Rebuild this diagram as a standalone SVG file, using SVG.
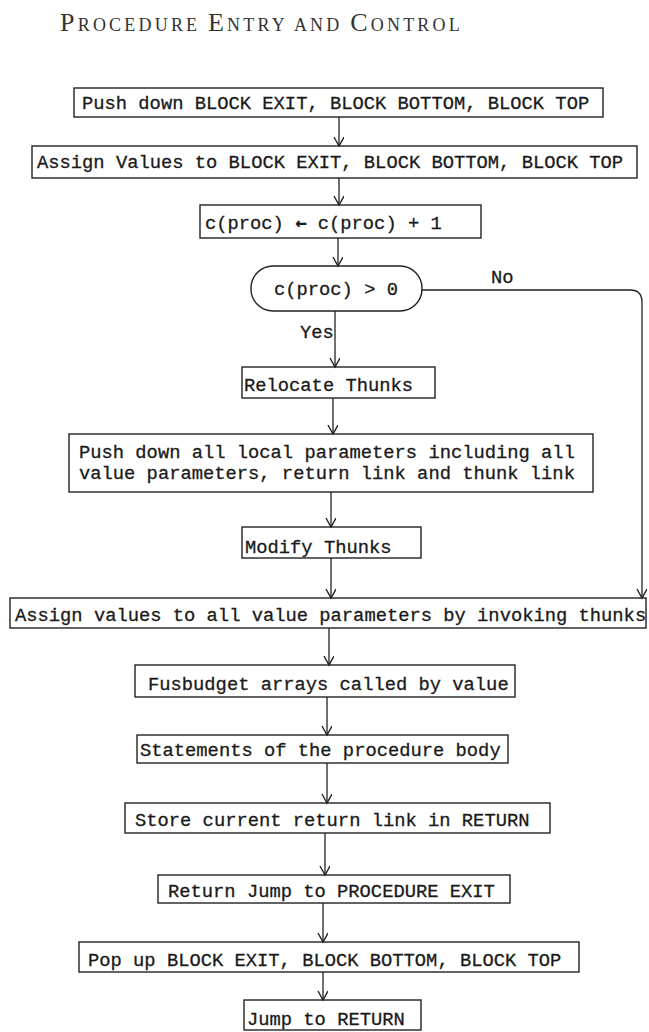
<svg xmlns="http://www.w3.org/2000/svg" width="649" height="1032" viewBox="0 0 649 1032">
<style>
.box{fill:none;stroke:#222;stroke-width:1.4}
.t{font-family:"Liberation Mono","DejaVu Sans Mono",monospace;font-size:18.8px;fill:#1a1a1a;stroke:#1a1a1a;stroke-width:0.3}
.c{stroke:#222;stroke-width:1.3;fill:none;marker-end:url(#ah)}
.title{font-family:"Liberation Serif","DejaVu Serif",serif;fill:#333;letter-spacing:3.2px}
.arr{font-family:"DejaVu Sans Mono",monospace;font-weight:bold}
</style>
<defs>
<marker id="ah" markerUnits="userSpaceOnUse" markerWidth="12" markerHeight="12" refX="10" refY="5" orient="auto" viewBox="0 0 12 12">
<path d="M1,0 L10,5 L1,10" fill="none" stroke="#222" stroke-width="1.4"/>
</marker>
</defs>
<rect width="649" height="1032" fill="#fff"/>
<text class="title" x="60" y="31"><tspan font-size="26">P</tspan><tspan font-size="18">ROCEDURE </tspan><tspan font-size="26">E</tspan><tspan font-size="18">NTRY AND </tspan><tspan font-size="26">C</tspan><tspan font-size="18">ONTROL</tspan></text>
<g id="connectors">
<path class="c" d="M339,117 V146"/>
<path class="c" d="M339,178 V205"/>
<path class="c" d="M338,238 V266"/>
<path class="c" d="M335,311 V367"/>
<path class="c" d="M333,398 V434"/>
<path class="c" d="M331,492 V527"/>
<path class="c" d="M331,558 V598"/>
<path class="c" d="M329,628 V665"/>
<path class="c" d="M327,697 V735"/>
<path class="c" d="M327,763 V803"/>
<path class="c" d="M325,833 V875"/>
<path class="c" d="M323,903 V942"/>
<path class="c" d="M323,972 V1000"/>
<path class="c" d="M422,290 H630 Q642,290 642,302 V598"/>
<text class="t" x="491" y="283">No</text>
<text class="t" x="300" y="338">Yes</text>
</g>
<g id="n1"><rect class="box" x="74" y="88" width="529" height="29"/><text class="t" x="82" y="109">Push down BLOCK EXIT, BLOCK BOTTOM, BLOCK TOP</text></g>
<g id="n2"><rect class="box" x="32" y="146" width="605" height="32"/><text class="t" x="37" y="168">Assign Values to BLOCK EXIT, BLOCK BOTTOM, BLOCK TOP</text></g>
<g id="n3"><rect class="box" x="200" y="205" width="281" height="33"/><text class="t" x="205" y="229">c(proc) <tspan class="arr">←</tspan> c(proc) + 1</text></g>
<g id="n4"><rect class="box" x="251" y="266" width="171" height="45" rx="22" ry="22"/><text class="t" x="336" y="295" text-anchor="middle">c(proc) &gt; 0</text></g>
<g id="n5"><rect class="box" x="242" y="367" width="193" height="31"/><text class="t" x="244" y="391">Relocate Thunks</text></g>
<g id="n6"><rect class="box" x="69" y="434" width="524" height="58"/><text class="t" x="79" y="458">Push down all local parameters including all</text><text class="t" x="79" y="479">value parameters, return link and thunk link</text></g>
<g id="n7"><rect class="box" x="242" y="527" width="179" height="31"/><text class="t" x="245" y="553">Modify Thunks</text></g>
<g id="n8"><rect class="box" x="10" y="598" width="636" height="30"/><text class="t" x="15" y="621">Assign values to all value parameters by invoking thunks</text></g>
<g id="n9"><rect class="box" x="135" y="665" width="380" height="32"/><text class="t" x="148" y="690">Fusbudget arrays called by value</text></g>
<g id="n10"><rect class="box" x="137" y="735" width="371" height="28"/><text class="t" x="140" y="756">Statements of the procedure body</text></g>
<g id="n11"><rect class="box" x="125" y="803" width="425" height="30"/><text class="t" x="135" y="826">Store current return link in RETURN</text></g>
<g id="n12"><rect class="box" x="158" y="875" width="352" height="28"/><text class="t" x="168" y="897">Return Jump to PROCEDURE EXIT</text></g>
<g id="n13"><rect class="box" x="79" y="942" width="500" height="30"/><text class="t" x="88" y="966">Pop up BLOCK EXIT, BLOCK BOTTOM, BLOCK TOP</text></g>
<g id="n14"><rect class="box" x="244" y="1000" width="177" height="30"/><text class="t" x="247" y="1025">Jump to RETURN</text></g>
</svg>
